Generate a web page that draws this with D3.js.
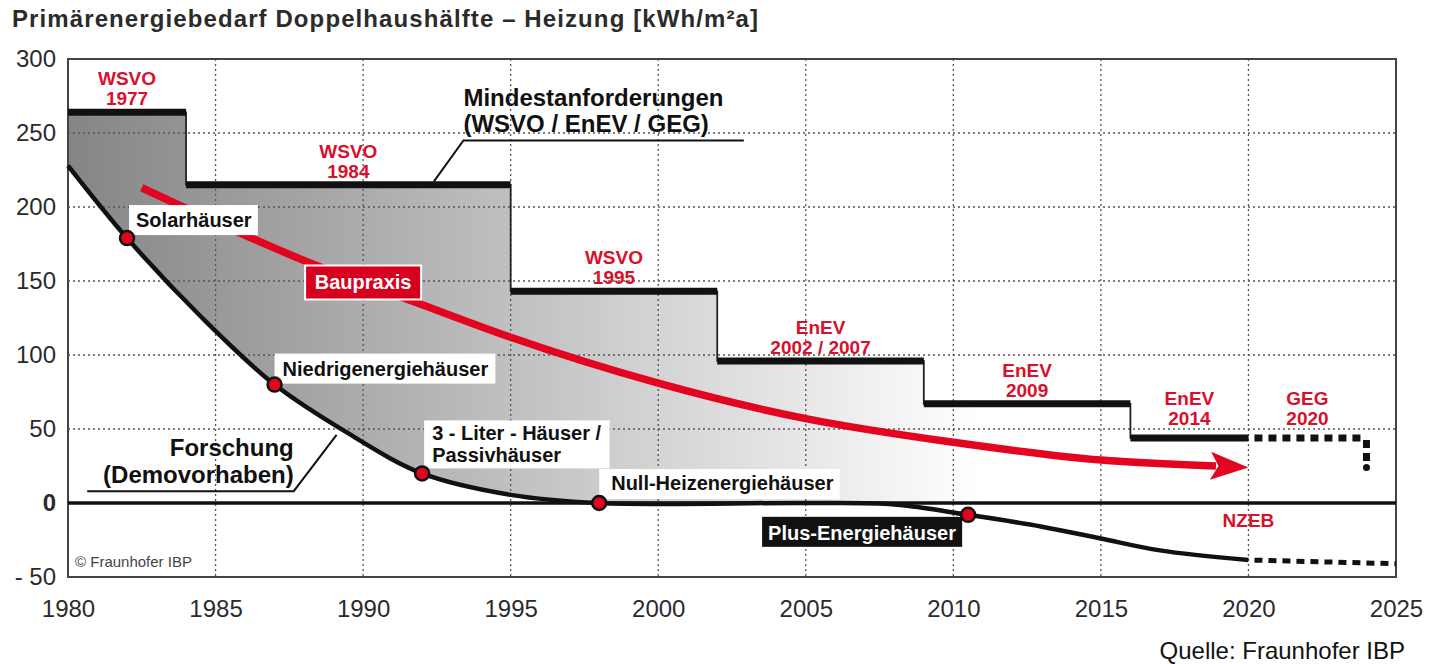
<!DOCTYPE html>
<html>
<head>
<meta charset="utf-8">
<script src="https://cdn.jsdelivr.net/npm/d3@7"></script>
<style>
    body { margin: 0; background: #fff; }
    svg text { font-family: "Liberation Sans", Arial, Helvetica, sans-serif; }
</style>
</head>
<body>
<div id="chart"></div>
<script>

// ---- Data ----

// Minimum requirements (WSVO / EnEV), value holds until the next year.
const stepYears  = [1980, 1984, 1995, 2002, 2009, 2016, 2020];
const stepValues = [264, 215, 143, 96, 67, 44, 44];
const stepNames  = ["WSVO|1977", "WSVO|1984", "WSVO|1995", "EnEV|2002 / 2007", "EnEV|2009", "EnEV|2014"];

// GEG 2020, dashed continuation
const gegYears  = [2020, 2024, 2024];
const gegValues = [44, 44, 24];
const gegName   = "GEG|2020";

// Research / demo projects (black curve)
const researchYears  = [1980, 1982, 1984.5, 1987, 1989.5, 1992, 1995, 1998, 2005, 2008, 2010.5, 2013, 2015, 2017, 2020];
const researchValues = [228, 179, 126, 80, 47, 20, 5.5, 0, 0, -1, -8, -16, -24, -32, -38.5];
const researchTailYears  = [2020, 2025];
const researchTailValues = [-38.5, -41];

// Building practice (red arrow)
const practiceYears  = [1982.5, 1988.1, 1992, 1995, 2000, 2005, 2010, 2015, 2018.9];
const practiceValues = [213, 163, 134, 112, 81, 57, 41, 29, 25];
const practiceTip    = [2020, 24];

// Milestones on the research curve
const milestoneYears  = [1982, 1987, 1992, 1998, 2010.5];
const milestoneValues = [179, 80, 20, 0, -8];
const milestoneNames  = ["Solarhäuser", "Niedrigenergiehäuser", "3 - Liter - Häuser /|Passivhäuser",
                         "Null-Heizenergiehäuser", "Plus-Energiehäuser"];

// Axes
const xTicks = [1980, 1985, 1990, 1995, 2000, 2005, 2010, 2015, 2020, 2025];
const yTicks = [-50, 0, 50, 100, 150, 200, 250, 300];
const yTickLabels = ["- 50", "0", "50", "100", "150", "200", "250", "300"];

const titleText  = "Primärenergiebedarf Doppelhaushälfte – Heizung [kWh/m²a]";
const sourceText = "Quelle: Fraunhofer IBP";

// ---- Chart ----

const W = 1429, H = 664;
const RED = "#d8102b";

const svg = d3.select("#chart").append("svg")
    .attr("width", W).attr("height", H);

const x = d3.scaleLinear().domain([1980, 2025]).range([68, 1396]);
const y = d3.scaleLinear().domain([-50, 300]).range([577, 59]);

const zip = (a, b) => a.map((v, i) => [v, b[i]]);
const steps     = zip(stepYears, stepValues);
const geg       = zip(gegYears, gegValues);
const research  = zip(researchYears, researchValues);
const researchT = zip(researchTailYears, researchTailValues);
const practice  = zip(practiceYears, practiceValues);
const milestones = zip(milestoneYears, milestoneValues);

const smooth = d3.curveCatmullRom.alpha(0.5);

// Title
svg.append("text")
    .attr("x", 12).attr("y", 27)
    .style("font-size", "24px").style("font-weight", "bold")
    .style("letter-spacing", "1.1px")
    .attr("fill", "#2b2b2b")
    .text(titleText);

// Gradient + clip for the grey band between requirement steps and research curve
const defs = svg.append("defs");
const grad = defs.append("linearGradient")
    .attr("id", "bandGrad")
    .attr("gradientUnits", "userSpaceOnUse")
    .attr("x1", x(1980)).attr("x2", x(2011)).attr("y1", 0).attr("y2", 0);
grad.append("stop").attr("offset", 0).attr("stop-color", "#858585");
grad.append("stop").attr("offset", 1).attr("stop-color", "#fff");

defs.append("clipPath").attr("id", "aboveResearch")
    .append("path")
    .attr("d", d3.area()
        .x(d => x(d[0])).y0(y(300)).y1(d => y(d[1]))
        .curve(smooth)(research));

svg.append("path")
    .attr("clip-path", "url(#aboveResearch)")
    .attr("fill", "url(#bandGrad)")
    .attr("d", d3.area()
        .x(d => x(d[0])).y0(y(0)).y1(d => y(d[1]))
        .curve(d3.curveStepAfter)(steps));

// Dotted grid
const grid = svg.append("g")
    .attr("stroke", "#555").attr("stroke-width", 1.3)
    .attr("stroke-dasharray", "2,3");
grid.selectAll("line.gx")
    .data(xTicks.slice(1, -1)).enter()
    .append("line")
    .attr("x1", d => x(d)).attr("x2", d => x(d))
    .attr("y1", y(300)).attr("y2", y(-50));
grid.selectAll("line.gy")
    .data(yTicks.filter(v => v > 0 && v < 300)).enter()
    .append("line")
    .attr("x1", x(1980)).attr("x2", x(2025))
    .attr("y1", d => y(d)).attr("y2", d => y(d));

// Frame
svg.append("rect")
    .attr("x", x(1980)).attr("y", y(300))
    .attr("width", x(2025) - x(1980)).attr("height", y(-50) - y(300))
    .attr("fill", "none").attr("stroke", "#444").attr("stroke-width", 2);

// Zero line
svg.append("line")
    .attr("x1", x(1980)).attr("x2", x(2025))
    .attr("y1", y(0)).attr("y2", y(0))
    .attr("stroke", "#111").attr("stroke-width", 3.5);

// Axes (labels only)
const yAxis = d3.axisLeft(y)
    .tickValues(yTicks)
    .tickSize(0).tickPadding(12)
    .tickFormat(v => yTickLabels[yTicks.indexOf(v)]);
const gy = svg.append("g")
    .attr("transform", "translate(" + x(1980) + ",0)")
    .call(yAxis);
gy.select(".domain").remove();
gy.selectAll("text")
    .style("font-size", "24px").attr("fill", "#2b2b2b")
    .style("font-family", "'Liberation Sans', Arial, sans-serif")
    .style("font-weight", d => d === 0 ? "bold" : "normal");

const xAxis = d3.axisBottom(x)
    .tickValues(xTicks)
    .tickSize(0).tickPadding(23)
    .tickFormat(d3.format("d"));
const gx = svg.append("g")
    .attr("transform", "translate(0," + y(-50) + ")")
    .call(xAxis);
gx.select(".domain").remove();
gx.selectAll("text")
    .style("font-size", "24px").attr("fill", "#2b2b2b")
    .style("font-family", "'Liberation Sans', Arial, sans-serif");

// Requirement steps: thin outline, then the thick bars
svg.append("path")
    .attr("fill", "none").attr("stroke", "#222").attr("stroke-width", 1.8)
    .attr("d", d3.line().x(d => x(d[0])).y(d => y(d[1])).curve(d3.curveStepAfter)(steps));

svg.selectAll("line.step")
    .data(steps.slice(0, -1)).enter()
    .append("line")
    .attr("x1", d => x(d[0]))
    .attr("x2", (d, i) => x(steps[i + 1][0]))
    .attr("y1", d => y(d[1])).attr("y2", d => y(d[1]))
    .attr("stroke", "#111").attr("stroke-width", 7);

// GEG dashed continuation
svg.append("path")
    .attr("fill", "none").attr("stroke", "#111").attr("stroke-width", 7)
    .attr("stroke-dasharray", "8,6").attr("stroke-dashoffset", 8)
    .attr("d", d3.line().x(d => x(d[0])).y(d => y(d[1]))(geg.slice(0, 2)));
svg.append("path")
    .attr("fill", "none").attr("stroke", "#111").attr("stroke-width", 7)
    .attr("stroke-dasharray", "8,5")
    .attr("d", d3.line().x(d => x(d[0])).y(d => y(d[1]))([[geg[1][0], geg[1][1] - 1.5], [geg[2][0], geg[2][1] + 4]]));
svg.append("circle")
    .attr("cx", x(geg[2][0])).attr("cy", y(geg[2][1]))
    .attr("r", 3.5).attr("fill", "#111");

// Red labels of the regulations
const regLabels = stepNames.map((n, i) => ({
    name: n, mid: (stepYears[i] + stepYears[i + 1]) / 2, value: stepValues[i]
}));
regLabels.push({ name: gegName, mid: (gegYears[0] + gegYears[1]) / 2, value: gegValues[0] });

regLabels.forEach(d => {
    const lines = d.name.split("|");
    const t = svg.append("text")
        .attr("text-anchor", "middle")
        .attr("fill", RED)
        .style("font-size", "19px").style("font-weight", "bold");
    const off = d.value < 50 ? 13 : 7;
    lines.forEach((l, k) => {
        t.append("tspan")
            .attr("x", x(d.mid))
            .attr("y", y(d.value) - off - (lines.length - 1 - k) * 20)
            .text(l);
    });
});

svg.append("text")
    .attr("x", x(2020)).attr("y", y(-16))
    .attr("text-anchor", "middle").attr("fill", RED)
    .style("font-size", "19px").style("font-weight", "bold")
    .text("NZEB");

// Research curve
svg.append("path")
    .attr("fill", "none").attr("stroke", "#111").attr("stroke-width", 4.5)
    .attr("d", d3.line().x(d => x(d[0])).y(d => y(d[1])).curve(smooth)(research));
svg.append("path")
    .attr("fill", "none").attr("stroke", "#111").attr("stroke-width", 5)
    .attr("stroke-dasharray", "8,6").attr("stroke-dashoffset", 8)
    .attr("d", d3.line().x(d => x(d[0])).y(d => y(d[1]))(researchT));

// Building practice arrow
svg.append("path")
    .attr("fill", "none").attr("stroke", "#e3051f").attr("stroke-width", 7.5)
    .attr("d", d3.line().x(d => x(d[0])).y(d => y(d[1])).curve(d3.curveMonotoneX)(practice));
{
    const tx = x(practiceTip[0]), ty = y(practiceTip[1]);
    const last = practice[practice.length - 1];
    const ang = Math.atan2(ty - y(last[1]), tx - x(last[0])) * 180 / Math.PI;
    svg.append("path")
        .attr("fill", "#e3051f")
        .attr("transform", "translate(" + tx + "," + ty + ") rotate(" + ang + ")")
        .attr("d", "M0,0 L-38,-14 L-30,0 L-38,14 Z");
}

// Baupraxis label
{
    const cx = x(1990), cy = y(149);
    svg.append("rect")
        .attr("x", cx - 58).attr("y", cy - 17)
        .attr("width", 116).attr("height", 34)
        .attr("fill", "#d7001e").attr("stroke", "#fff").attr("stroke-width", 2);
    svg.append("text")
        .attr("x", cx).attr("y", cy + 7)
        .attr("text-anchor", "middle").attr("fill", "#fff")
        .style("font-size", "20px").style("font-weight", "bold")
        .text("Baupraxis");
}

// Milestone labels (boxes sized from their text)
const boxLayout = [
    { dx: 9,    lines: [-11],      top: -33, h: 30, pl: 7,  pr: 6,  dark: false },
    { dx: 8,    lines: [-9],       top: -31, h: 30, pl: 8,  pr: 7,  dark: false },
    { dx: 10,   lines: [-33, -11], top: -53, h: 48, pl: 8,  pr: 8,  dark: false },
    { dx: 12,   lines: [-13],      top: -34, h: 30, pl: 12, pr: 6,  dark: false },
    { dx: -200, lines: [25],       top: 2,   h: 30, pl: 6,  pr: 6,  dark: true  }
];

milestones.forEach((m, i) => {
    const L = boxLayout[i];
    const mx = x(m[0]), my = y(m[1]);
    const g = svg.append("g");
    const rect = g.append("rect");
    const t = g.append("text")
        .attr("fill", L.dark ? "#fff" : "#111")
        .style("font-size", "20px").style("font-weight", "bold");
    milestoneNames[i].split("|").forEach((l, k) => {
        t.append("tspan").attr("x", mx + L.dx).attr("y", my + L.lines[k]).text(l);
    });
    const bb = t.node().getBBox();
    rect.attr("x", bb.x - L.pl).attr("y", my + L.top)
        .attr("width", bb.width + L.pl + L.pr).attr("height", L.h)
        .attr("fill", L.dark ? "#111" : "#fff");
});

// Markers
svg.selectAll("circle.milestone")
    .data(milestones).enter()
    .append("circle")
    .attr("cx", d => x(d[0])).attr("cy", d => y(d[1]))
    .attr("r", 7)
    .attr("fill", "#e3051f").attr("stroke", "#111").attr("stroke-width", 2.5);

// Callouts
{
    const tx = x(1993.4), base = y(245);
    const t = svg.append("text").attr("fill", "#111")
        .style("font-size", "24px").style("font-weight", "bold");
    t.append("tspan").attr("x", tx).attr("y", base - 34).text("Mindestanforderungen");
    t.append("tspan").attr("x", tx).attr("y", base - 8).text("(WSVO / EnEV / GEG)");
    svg.append("path")
        .attr("fill", "none").attr("stroke", "#111").attr("stroke-width", 2)
        .attr("d", "M" + x(2002.9) + "," + base + "H" + tx +
                   "L" + x(1992.4) + "," + (y(215) - 3.5));
}
{
    const tx = x(1987.65), base = y(8);
    const t = svg.append("text").attr("fill", "#111").attr("text-anchor", "end")
        .style("font-size", "24px").style("font-weight", "bold");
    t.append("tspan").attr("x", tx).attr("y", base - 35).text("Forschung");
    t.append("tspan").attr("x", tx).attr("y", base - 8).text("(Demovorhaben)");
    svg.append("path")
        .attr("fill", "none").attr("stroke", "#111").attr("stroke-width", 2)
        .attr("d", "M" + x(1980.65) + "," + base + "H" + tx +
                   "L" + x(1989.1) + "," + y(46));
}

// Copyright + source
svg.append("text")
    .attr("x", x(1980) + 7).attr("y", y(-50) - 10)
    .attr("fill", "#444").style("font-size", "15px")
    .text("© Fraunhofer IBP");

svg.append("text")
    .attr("x", 1405).attr("y", 659)
    .attr("text-anchor", "end").attr("fill", "#111")
    .style("font-size", "24px")
    .text(sourceText);

</script>
</body>
</html>
